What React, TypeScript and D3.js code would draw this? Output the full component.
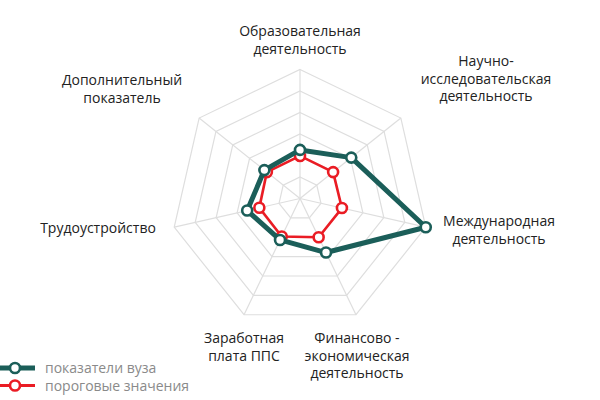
import { useEffect, useRef } from 'react';
import * as d3 from 'd3';

const axisLabels: string[][] = [
  ['Образовательная', 'деятельность'],
  ['Научно-', 'исследовательская', 'деятельность'],
  ['Международная', 'деятельность'],
  ['Финансово -', 'экономическая', 'деятельность'],
  ['Заработная', 'плата ППС'],
  ['Трудоустройство'],
  ['Дополнительный', 'показатель'],
];

// values on a 0..6 scale (6 grid rings)
const universityValues = [2.26, 3.05, 6.0, 2.79, 2.14, 2.52, 2.12];
const thresholdValues = [1.98, 1.97, 2.0, 2.0, 1.96, 1.94, 1.97];

const seriesNames = ['показатели вуза', 'пороговые значения'];
const ringLevels = [1, 2, 3, 4, 5, 6];

// label anchor positions (center x, first baseline)
const labelPos = [
  { x: 300, y: 36 },
  { x: 486, y: 66 },
  { x: 499, y: 226 },
  { x: 357, y: 343 },
  { x: 244, y: 343 },
  { x: 98, y: 233 },
  { x: 122, y: 85 },
];

const GREEN = '#1b5e59';
const RED = '#ea1c24';

export default function App() {
  const svgRef = useRef<SVGSVGElement>(null);

  useEffect(() => {
    if (!svgRef.current) return;
    const svg = d3.select(svgRef.current);
    svg.selectAll('*').remove();

    const cx = 300;
    const cy = 198.5;
    const n = axisLabels.length;
    const angle = (i: number) => (i * 2 * Math.PI) / n;

    const r = d3.scaleLinear().domain([0, 6]).range([0, 129]);

    const g = svg.append('g').attr('transform', `translate(${cx},${cy})`);

    // grid rings
    const ringLine = d3.lineRadial<number>()
      .angle((_, i) => angle(i))
      .radius(d => r(d))
      .curve(d3.curveLinearClosed);

    ringLevels.forEach(level => {
      g.append('path')
        .attr('d', ringLine(d3.range(n).map(() => level)))
        .attr('fill', 'none')
        .attr('stroke', '#dedede')
        .attr('stroke-width', 1.2);
    });

    // spokes
    d3.range(n).forEach(i => {
      const a = angle(i);
      g.append('line')
        .attr('x1', 0).attr('y1', 0)
        .attr('x2', r(6) * Math.sin(a))
        .attr('y2', -r(6) * Math.cos(a))
        .attr('stroke', '#dedede')
        .attr('stroke-width', 1.2);
    });

    const drawSeries = (values: number[], color: string, width: number) => {
      g.append('path')
        .attr('d', ringLine(values))
        .attr('fill', 'none')
        .attr('stroke', color)
        .attr('stroke-width', width)
        .attr('stroke-linejoin', 'round');

      g.selectAll(null)
        .data(values)
        .enter()
        .append('circle')
        .attr('cx', (d, i) => r(d) * Math.sin(angle(i)))
        .attr('cy', (d, i) => -r(d) * Math.cos(angle(i)))
        .attr('r', 5)
        .attr('fill', '#fff')
        .attr('stroke', color)
        .attr('stroke-width', 2.6);
    };

    drawSeries(thresholdValues, RED, 2.6);
    drawSeries(universityValues, GREEN, 5);

    // axis labels
    axisLabels.forEach((lines, i) => {
      const t = svg.append('text')
        .attr('text-anchor', 'middle')
        .style('font-family', '"Open Sans", sans-serif')
        .style('font-size', '14px')
        .attr('fill', '#222');
      lines.forEach((line, j) => {
        t.append('tspan')
          .attr('x', labelPos[i].x)
          .attr('y', labelPos[i].y + j * 17.5)
          .text(line);
      });
    });

    // legend
    const legend = svg.append('g');
    [GREEN, RED].forEach((color, i) => {
      const y = 368 + i * 17.5;
      legend.append('line')
        .attr('x1', 0).attr('x2', 35)
        .attr('y1', y).attr('y2', y)
        .attr('stroke', color)
        .attr('stroke-width', i === 0 ? 5 : 3);
      legend.append('circle')
        .attr('cx', 15).attr('cy', y)
        .attr('r', 5)
        .attr('fill', '#fff')
        .attr('stroke', color)
        .attr('stroke-width', 2.6);
      legend.append('text')
        .attr('x', 45)
        .attr('y', y + 5)
        .style('font-family', '"Open Sans", sans-serif')
        .style('font-size', '14px')
        .attr('fill', '#8a8a8a')
        .text(seriesNames[i]);
    });
  }, []);

  return (
    <svg
      ref={svgRef}
      width={600}
      height={400}
      style={{ position: 'absolute', left: 0, top: 0, background: '#fff', display: 'block' }}
    />
  );
}
